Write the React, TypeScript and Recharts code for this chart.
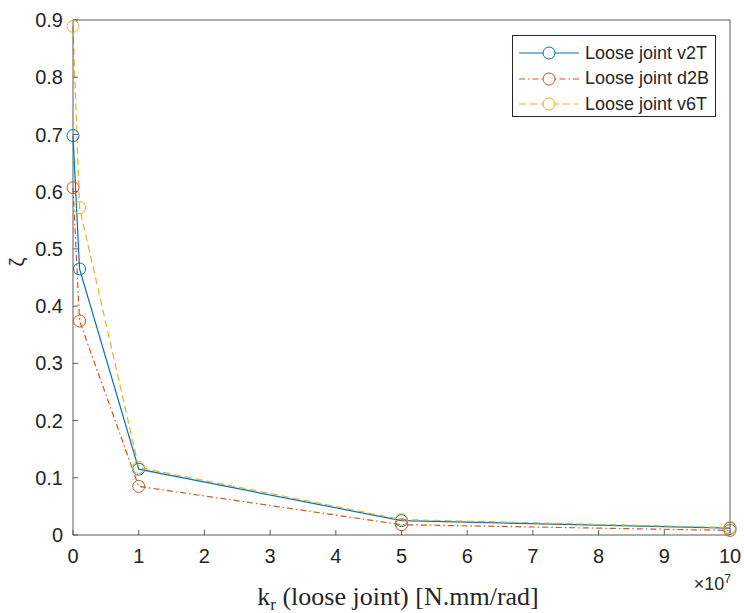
import React from "react";
import { LineChart, Line, XAxis, YAxis, Label } from "recharts";

const kr = [0, 0.1, 1, 5, 10];
const v2T = [0.698, 0.465, 0.115, 0.025, 0.012];
const d2B = [0.607, 0.374, 0.085, 0.018, 0.008];
const v6T = [0.889, 0.572, 0.118, 0.027, 0.013];
const xTicks = [0, 1, 2, 3, 4, 5, 6, 7, 8, 9, 10];
const yTicks = [0, 0.1, 0.2, 0.3, 0.4, 0.5, 0.6, 0.7, 0.8, 0.9];

const series = [
  { key: "v2T", name: "Loose joint v2T", color: "#0072BD", dash: undefined as string | undefined },
  { key: "d2B", name: "Loose joint d2B", color: "#D95319", dash: "6 3 1.5 3" },
  { key: "v6T", name: "Loose joint v6T", color: "#EDB120", dash: "7 4" },
];

const data = kr.map((x, i) => ({ x, v2T: v2T[i], d2B: d2B[i], v6T: v6T[i] }));

const AXIS = "#5a5a5a";
const TEXT = "#262626";
const SANS = "'Liberation Sans', Arial, Helvetica, sans-serif";
const SERIF = "'Liberation Serif', 'Times New Roman', serif";

const circleDot = (color: string) => (props: any) => {
  const { cx, cy, index } = props;
  if (cx == null || cy == null) return <g key={index} />;
  return <circle key={index} cx={cx} cy={cy} r={6} fill="none" stroke={color} strokeWidth={1} />;
};

function LegendBox() {
  return (
    <div
      style={{
        position: "absolute",
        left: 512,
        top: 35,
        width: 202,
        height: 80,
        border: "1px solid #262626",
        background: "#fff",
        fontFamily: SANS,
        fontSize: 18,
        color: TEXT,
        boxSizing: "content-box",
      }}
    >
      {series.map((s, i) => (
        <div key={s.key} style={{ position: "absolute", left: 0, top: 6 + i * 25.5, height: 22, display: "flex", alignItems: "center" }}>
          <svg width={70} height={22}>
            <line x1={6} x2={66} y1={11} y2={11} stroke={s.color} strokeWidth={1} strokeDasharray={s.dash} />
            <circle cx={36} cy={11} r={6} fill="#fff" stroke={s.color} strokeWidth={1} />
          </svg>
          <span style={{ marginLeft: 2, whiteSpace: "nowrap" }}>{s.name}</span>
        </div>
      ))}
    </div>
  );
}

export default function App() {
  return (
    <div style={{ position: "absolute", left: 0, top: 0, width: 744, height: 613, background: "#fff" }}>
      <LineChart width={744} height={613} data={data} margin={{ top: 19, right: 13, left: 0, bottom: 48 }}>
        <XAxis
          dataKey="x"
          type="number"
          domain={[0, 10]}
          ticks={xTicks}
          interval={0}
          height={30}
          tickSize={-5}
          tickMargin={19}
          stroke={AXIS}
          fontSize={20}
          fontFamily={SANS}
          tick={{ fill: TEXT, fontSize: 20, fontFamily: SANS }}
        >
          <Label
            content={(props: any) => {
              const vb = props.viewBox;
              return (
                <g>
                  <text x={398} y={605} textAnchor="middle" fontFamily={SERIF} fontSize={26} fill={TEXT}>
                    k<tspan fontSize={17} dy={5}>r</tspan>
                    <tspan dy={-5}> (loose joint) [N.mm/rad]</tspan>
                  </text>
                  <text x={vb.x + vb.width + 1} y={590} textAnchor="end" fontFamily={SANS} fontSize={18} fill={TEXT}>
                    ×10<tspan fontSize={12} dy={-7}>7</tspan>
                  </text>
                </g>
              );
            }}
          />
        </XAxis>
        <XAxis xAxisId="top" orientation="top" dataKey="x" type="number" domain={[0, 10]} ticks={xTicks} interval={0} height={1} tickSize={-5} tick={false} stroke={AXIS} />
        <YAxis
          type="number"
          domain={[0, 0.9]}
          ticks={yTicks}
          interval={0}
          width={73}
          tickSize={-5}
          tickMargin={15}
          stroke={AXIS}
          fontSize={20}
          fontFamily={SANS}
          tickFormatter={(v: number) => (v === 0 ? "0" : v.toFixed(1))}
          tick={{ fill: TEXT, fontSize: 20, fontFamily: SANS }}
        >
          <Label
            content={() => (
              <text x={24} y={262} textAnchor="middle" transform="rotate(-90 24 262)" fontFamily={SANS} fontSize={20} fill={TEXT}>
                ζ
              </text>
            )}
          />
        </YAxis>
        <YAxis yAxisId="right" orientation="right" type="number" domain={[0, 0.9]} ticks={yTicks} interval={0} width={1} tickSize={-5} tick={false} stroke={AXIS} />
        {series.map((s) => (
          <Line
            key={s.key}
            dataKey={s.key}
            name={s.name}
            type="linear"
            stroke={s.color}
            strokeWidth={1.2}
            strokeDasharray={s.dash}
            dot={circleDot(s.color)}
            activeDot={false}
            isAnimationActive={false}
          />
        ))}
      </LineChart>
      <LegendBox />
    </div>
  );
}
